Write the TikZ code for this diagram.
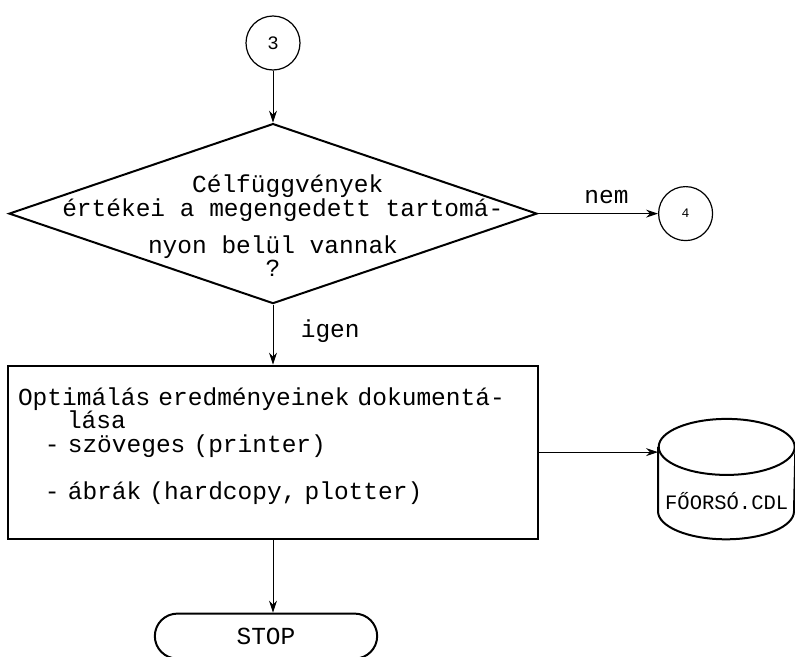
\documentclass[tikz,border=0pt]{standalone}
\usepackage{fontspec}
\setmonofont{Liberation Mono}
\usetikzlibrary{arrows.meta,shapes.geometric,shapes.misc}
\usetikzlibrary{positioning}
\tikzset{
    connect/.style={
           circle,
           draw=black, line width=1.2pt,
           minimum size=54pt,
           inner sep=0pt,
           },
    decision/.style={
           diamond,
           draw=black, line width=2pt,
           minimum width=528pt,
           minimum height=180pt,
           inner sep=0pt,
           },
    process/.style={
           rectangle,
           draw=black, line width=2pt,
           minimum width=530pt,
           minimum height=173pt,
           text width=510pt,
           inner xsep=10pt,
           align=left,
           },
    storage/.style={
           rectangle,
           minimum width=137pt,
           minimum height=120pt,
           inner sep=0pt,
           },
    terminal/.style={
           rounded rectangle,
           draw=black, line width=2pt,
           minimum width=229pt,
           minimum height=45pt,
           },
    flow/.style={->, line width=1pt},
}

\begin{document}
\begin{tikzpicture}[x=1pt,y=-1pt,>={Stealth[length=12pt,width=8pt]},
    every node/.style={font=\ttfamily\fontsize{24.5}{27}\selectfont}]
\useasboundingbox (0,0) rectangle (795,656);

 \node[connect, font=\ttfamily\fontsize{19}{20}\selectfont] (Three) at (273,43) {3};

 % question about the objective functions
 \node[decision,
  below=52pt of Three,
  label={[align=center, yshift=-12pt]center:\hspace*{1.2em}Célfüggvények\\[-3pt]
  	\hspace*{0.8em}értékei a megengedett tartomá-\\[10pt]
  	nyon belül vannak\hspace*{0.65em}\\[-4pt]
  	?}] (Check) {};

 \node[connect, font=\ttfamily\fontsize{13}{14}\selectfont,
  right=120pt of Check] (Four) {4};

 \node[process,
  below=60pt of Check] (Result)
  {Optimálás eredményeinek dokumentá-\\[-4pt]
  	\hspace*{2em}lása\\[-3pt]
  	\hspace*{1.1em}- szöveges (printer)\\[20pt]
  	\hspace*{1.1em}- ábrák (hardcopy, plotter)\\[-10pt]\mbox{}};

 % data file (cylinder drawn below)
 \node[storage,
  right=119pt of Result,
  yshift=-27pt,
  label={[yshift=-22pt, font=\ttfamily\fontsize{20.5}{22}\selectfont]center:FŐORSÓ.CDL}] (Disk) {};
 \draw[line width=2pt] ([yshift=-28pt]Disk.north) ellipse [x radius=68pt, y radius=28pt];
 \draw[line width=2pt] ([yshift=-28pt]Disk.north west) -- ([yshift=28pt]Disk.south west)
  arc[start angle=180, end angle=360, x radius=68pt, y radius=28pt]
  -- ([yshift=-28pt]Disk.north east);

 \node[terminal,
  below=73pt of Result,
  xshift=-7pt] (Stop) {STOP};

 % draw the paths
 \draw[flow] (Three) -- (Check);
 \draw[flow] (Check.east) -- node[above=6pt, pos=0.57]{nem} (Four);
 \draw[flow] (Check.south) -- node[right=24pt, pos=0.45]{igen} (Result);
 \draw[flow] (Result.east) -- (Result.east -| Disk.west);
 \draw[flow] (Result.south) -- (Result.south |- Stop.north);

\end{tikzpicture}
\end{document}
